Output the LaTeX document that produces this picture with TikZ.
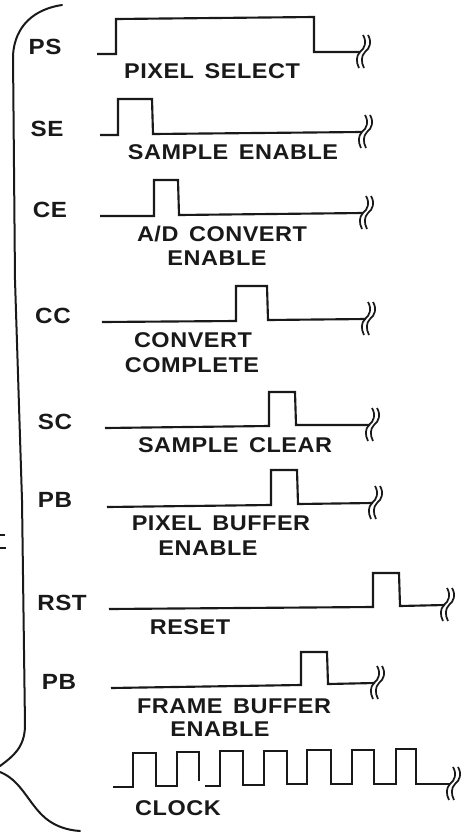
\documentclass[tikz,border=0pt]{standalone}
\usepackage{fontspec}
\setmainfont[FakeStretch=1.1,LetterSpace=2.5,WordSpace=1.5]{Liberation Sans}
\tikzset{
  wave/.style={line width=1.6pt,line join=miter,black!90},
  brace/.style={line width=1.5pt,black!90,line cap=round},
  sig/.style={font=\fontsize{16.5pt}{18pt}\selectfont\bfseries,inner sep=0pt,text=black!90},
  captext/.style={font=\fontsize{16pt}{18pt}\selectfont\bfseries,inner sep=0pt,text=black!90},
  breakmark/.pic={
    \draw[line width=1.3pt,black!90] (6,-17) .. controls (10,-10) and (8,-4) .. (3,0) .. controls (-1,4) and (-1,10) .. (2,16);
    \draw[line width=1.3pt,black!90] (1,-17) .. controls (5,-10) and (3,-4) .. (-2,0) .. controls (-6,4) and (-6,10) .. (-3,16);
  }
}
\begin{document}
\begin{tikzpicture}[x=0.75pt,y=-0.75pt]
\useasboundingbox (0,0) rectangle (467,836);
% brace
\draw[brace] (62,5) .. controls (35,9) and (15,25) .. (13,55) -- (15,280) -- (22,500) -- (25,725) .. controls (25,748) and (12,757) .. (0,766);
\draw[brace] (0,772) .. controls (20,780) and (27,800) .. (42,815) .. controls (52,825) and (65,830) .. (80,831);
\draw[line width=1pt,black!90] (0,535) -- (5,535) (0,548) -- (6,548);
% signal names
\node[sig] (nps) at (45,47) {PS};
\node[sig] (nse) at (47,129) {SE};
\node[sig] (nce) at (50,210) {CE};
\node[sig] (ncc) at (53,316) {CC};
\node[sig] (nsc) at (55,422) {SC};
\node[sig] (npb) at (55,500) {PB};
\node[sig] (nrst) at (62,603) {RST};
\node[sig] (nfb) at (59,682) {PB};
% waveforms
\draw[wave] (97,54) -- (116,54) -- (116,19) -- (314,17) -- (314,52) -- (360,52);
\pic at (362,52) {breakmark};
\draw[wave] (100,135) -- (118,135) -- (118,99) -- (152,99) -- (153,134) -- (362,132);
\pic at (364,132) {breakmark};
\draw[wave] (100,216) -- (154,216) -- (154,180) -- (178,180) -- (179,215) -- (363,213);
\pic at (365,213) {breakmark};
\draw[wave] (102,322) -- (236,321) -- (236,286) -- (267,286) -- (268,320) -- (366,319);
\pic at (367,319) {breakmark};
\draw[wave] (105,428) -- (269,426) -- (269,392) -- (295,392) -- (296,425) -- (370,425);
\pic at (371,425) {breakmark};
\draw[wave] (107,507) -- (271,505) -- (271,470) -- (297,470) -- (298,504) -- (373,503);
\pic at (374,503) {breakmark};
\draw[wave] (109,609) -- (373,607) -- (373,573) -- (399,573) -- (400,606) -- (445,605);
\pic at (446,605) {breakmark};
\draw[wave] (111,688) -- (301,685) -- (301,652) -- (327,652) -- (328,684) -- (375,683);
\pic at (376,683) {breakmark};
\draw[wave] (113,787) -- (133,787) -- (133,753) -- (156,753) -- (156,786) -- (177,786) -- (177,752) -- (199,752) -- (199,781);
\draw[wave] (205,786) -- (220,786) -- (220,751) -- (243,751) -- (243,785) -- (264,785) -- (264,751) -- (287,751) -- (287,784) -- (307,784) -- (307,750) -- (331,750) -- (331,784) -- (352,784) -- (352,750) -- (374,750) -- (374,784) -- (396,784) -- (396,749) -- (416,749) -- (416,784) -- (450,784);
\pic at (452,784) {breakmark};
% captions
\node[captext] (c1) at (212,71) {PIXEL SELECT};
\node[captext] (c2) at (233,152) {SAMPLE ENABLE};
\node[captext] (c3) at (222,234) {A/D CONVERT};
\node[captext] (c3b) at (217,258) {ENABLE};
\node[captext] (c4) at (193,340) {CONVERT};
\node[captext] (c4b) at (192,365) {COMPLETE};
\node[captext] (c5) at (235,445) {SAMPLE CLEAR};
\node[captext] (c6) at (221,523) {PIXEL BUFFER};
\node[captext] (c6b) at (208,548) {ENABLE};
\node[captext] (c7) at (190,627) {RESET};
\node[captext] (c8) at (234,706) {FRAME BUFFER};
\node[captext] (c8b) at (220,729) {ENABLE};
\node[captext] (c9) at (178,808) {CLOCK};
\end{tikzpicture}
\end{document}
